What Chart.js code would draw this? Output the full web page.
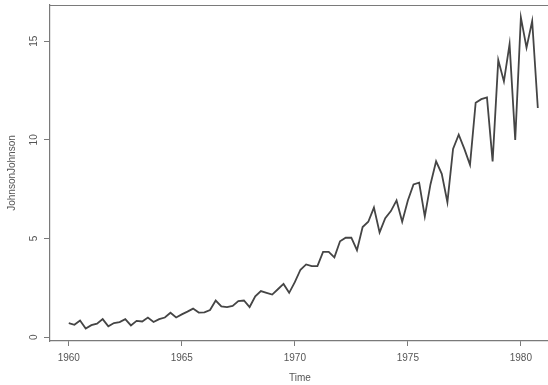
<!DOCTYPE html>
<html>
<head>
<meta charset="utf-8">
<script src="https://cdn.jsdelivr.net/npm/chart.js@4.4.1/dist/chart.umd.min.js"></script>
<style>
  html, body { margin: 0; padding: 0; background: #ffffff; }
  #wrap { position: relative; width: 548px; height: 385px; }
</style>
</head>
<body>
<div id="wrap"><canvas id="c" width="548" height="385"></canvas></div>
<script>
// Quarterly earnings per share, 1960–1980
const years = [1960, 1961, 1962, 1963, 1964, 1965, 1966, 1967, 1968, 1969, 1970,
               1971, 1972, 1973, 1974, 1975, 1976, 1977, 1978, 1979, 1980];
const quarterOffsets = [0, 0.25, 0.5, 0.75];
const earnings = [
  0.71, 0.63, 0.85, 0.44,
  0.61, 0.69, 0.92, 0.55,
  0.72, 0.77, 0.92, 0.60,
  0.83, 0.80, 1.00, 0.77,
  0.92, 1.00, 1.24, 1.00,
  1.16, 1.30, 1.45, 1.25,
  1.26, 1.38, 1.86, 1.56,
  1.53, 1.59, 1.83, 1.86,
  1.53, 2.07, 2.34, 2.25,
  2.16, 2.43, 2.70, 2.25,
  2.79, 3.42, 3.69, 3.60,
  3.60, 4.32, 4.32, 4.05,
  4.86, 5.04, 5.04, 4.41,
  5.58, 5.85, 6.57, 5.31,
  6.03, 6.39, 6.93, 5.85,
  6.93, 7.74, 7.83, 6.12,
  7.74, 8.91, 8.28, 6.84,
  9.54, 10.26, 9.54, 8.73,
  11.88, 12.06, 12.15, 8.91,
  14.04, 12.96, 14.85, 9.99,
  16.20, 14.67, 16.02, 11.61
];
const xTicks = [1960, 1965, 1970, 1975, 1980];
const yTicks = [0, 5, 10, 15];
const xTitle = 'Time';
const yTitle = 'JohnsonJohnson';

const points = [];
years.forEach((yr, i) => {
  quarterOffsets.forEach((q, j) => {
    points.push({ x: yr + q, y: earnings[i * 4 + j] });
  });
});

const FRAME = '#7a7a7a';
const TEXT = '#555555';
const FONT = '"Liberation Sans", Arial, sans-serif';

// Top frame line, rotated y tick labels and axis titles
const frameAndText = {
  id: 'frameAndText',
  afterDraw(chart) {
    const ctx = chart.ctx;
    const a = chart.chartArea;
    const ys = chart.scales.y;
    ctx.save();
    ctx.strokeStyle = FRAME;
    ctx.lineWidth = 1.2;
    ctx.beginPath();
    ctx.moveTo(a.left, a.top + 0.5);
    ctx.lineTo(a.right, a.top + 0.5);
    ctx.stroke();

    ctx.fillStyle = TEXT;
    ctx.font = '10px ' + FONT;
    ctx.textAlign = 'center';
    ctx.textBaseline = 'middle';
    yTicks.forEach(v => {
      const py = ys.getPixelForValue(v);
      ctx.save();
      ctx.translate(34, py);
      ctx.rotate(-Math.PI / 2);
      ctx.fillText(String(v), 0, 0);
      ctx.restore();
    });

    ctx.fillText(xTitle, 300, 378);
    ctx.save();
    ctx.translate(12, (a.top + a.bottom) / 2);
    ctx.rotate(-Math.PI / 2);
    ctx.fillText(yTitle, 0, 0);
    ctx.restore();
    ctx.restore();
  }
};

new Chart(document.getElementById('c'), {
  type: 'scatter',
  data: {
    datasets: [{
      data: points,
      showLine: true,
      borderColor: '#454545',
      borderWidth: 1.8,
      pointRadius: 0,
      pointHoverRadius: 0,
      tension: 0
    }]
  },
  options: {
    responsive: false,
    animation: false,
    events: [],
    layout: { padding: { left: 0, right: 0, top: 5, bottom: 0 } },
    plugins: { legend: { display: false }, tooltip: { enabled: false } },
    scales: {
      x: {
        type: 'linear',
        min: 1959.17,
        max: 1981.2,
        afterBuildTicks(scale) { scale.ticks = xTicks.map(v => ({ value: v })); },
        afterFit(scale) { scale.height = 44; },
        grid: { drawOnChartArea: false, drawTicks: true, tickLength: 5, color: FRAME, lineWidth: 1 },
        border: { display: true, color: FRAME, width: 1.2 },
        ticks: { color: TEXT, font: { size: 10, family: FONT }, padding: 6, maxRotation: 0, autoSkip: false,
                 callback: v => String(v) }
      },
      y: {
        type: 'linear',
        min: -0.19,
        max: 16.83,
        afterBuildTicks(scale) { scale.ticks = yTicks.map(v => ({ value: v })); },
        afterFit(scale) { scale.width = 50; },
        grid: { drawOnChartArea: false, drawTicks: true, tickLength: 6, color: FRAME, lineWidth: 1 },
        border: { display: true, color: FRAME, width: 1.2 },
        ticks: { display: false }
      }
    }
  },
  plugins: [frameAndText]
});
</script>
</body>
</html>
